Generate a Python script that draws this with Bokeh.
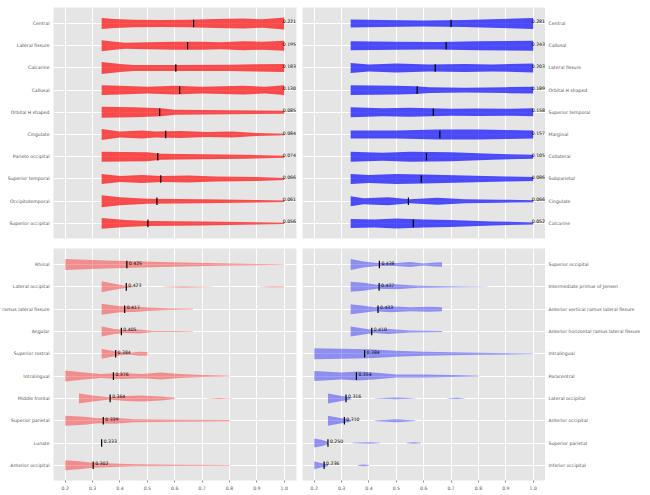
from bokeh.plotting import figure
from bokeh.layouts import gridplot
from bokeh.models import ColumnDataSource, FixedTicker, Range1d
from bokeh.core.properties import value
from bokeh.embed import file_html
from bokeh.resources import INLINE

# ---------------- data ----------------
X_TICKS = [0.2, 0.3, 0.4, 0.5, 0.6, 0.7, 0.8, 0.9, 1.0]
X_TICK_LABELS = ["0.2", "0.3", "0.4", "0.5", "0.6", "0.7", "0.8", "0.9", "1.0"]

# top-left panel (red)
TL_LABELS = ["Central", "Lateral fissure", "Calcarine", "Callosal", "Orbital H shaped",
             "Cingulate", "Parieto occipital", "Superior temporal", "Occipitotemporal",
             "Superior occipital"]
TL_VALUES = [0.221, 0.195, 0.183, 0.130, 0.085, 0.084, 0.074, 0.066, 0.061, 0.056]
TL_MEDIANS = [0.669, 0.647, 0.604, 0.618, 0.545, 0.567, 0.538, 0.549, 0.535, 0.502]
TL_DENSITY = [
    [([0.333, 0.38, 0.45, 0.55, 0.65, 0.75, 0.85, 0.92, 1.0], [5.5, 4.5, 3.8, 3.5, 3.8, 4.5, 5.0, 4.3, 6.0])],
    [([0.333, 0.38, 0.42, 0.5, 0.6, 0.7, 0.77, 0.85, 0.92, 1.0], [5.5, 4.0, 3.0, 3.5, 4.0, 4.0, 3.5, 4.5, 4.0, 5.0])],
    [([0.333, 0.4, 0.45, 0.6, 0.8, 1.0], [6.0, 4.0, 3.0, 3.0, 3.2, 4.0])],
    [([0.333, 0.4, 0.5, 0.6, 0.7, 0.85, 0.93, 1.0], [5.0, 4.5, 3.5, 4.5, 3.5, 4.5, 3.5, 5.0])],
    [([0.333, 0.45, 0.55, 0.6, 0.8, 1.0], [5.5, 5.0, 4.0, 2.5, 2.0, 1.5])],
    [([0.333, 0.4, 0.48, 0.53, 0.62, 0.72, 0.81, 0.9, 1.0], [5.5, 3.0, 4.0, 3.0, 3.5, 2.5, 3.0, 1.5, 0.8])],
    [([0.333, 0.5, 0.55, 0.7, 0.85, 1.0], [5.0, 4.5, 3.0, 2.5, 2.0, 1.0])],
    [([0.333, 0.4, 0.48, 0.55, 0.65, 0.75, 0.9, 1.0], [5.0, 3.0, 4.0, 3.0, 3.5, 2.5, 2.0, 1.0])],
    [([0.333, 0.4, 0.5, 0.7, 0.9, 1.0], [6.0, 4.0, 2.5, 2.0, 1.2, 0.8])],
    [([0.333, 0.42, 0.5, 0.7, 0.9, 1.0], [5.5, 3.5, 2.5, 2.0, 1.2, 0.7])],
]

# top-right panel (blue)
TR_LABELS = ["Central", "Callosal", "Lateral fissure", "Orbital H shaped", "Superior temporal",
             "Marginal", "Collateral", "Subparietal", "Cingulate", "Calcarine"]
TR_VALUES = [0.281, 0.243, 0.203, 0.189, 0.158, 0.157, 0.105, 0.086, 0.066, 0.052]
TR_MEDIANS = [0.700, 0.682, 0.642, 0.576, 0.635, 0.659, 0.610, 0.591, 0.544, 0.562]
TR_DENSITY = [
    [([0.333, 0.45, 0.6, 0.75, 0.88, 1.0], [4.0, 3.5, 3.0, 3.5, 4.5, 5.5])],
    [([0.333, 0.5, 0.65, 0.8, 1.0], [4.5, 4.0, 3.8, 4.5, 5.0])],
    [([0.333, 0.4, 0.5, 0.62, 0.75, 0.85, 1.0], [5.0, 3.5, 4.5, 3.5, 4.0, 3.5, 4.5])],
    [([0.333, 0.5, 0.57, 0.62, 0.75, 0.9, 1.0], [5.0, 4.5, 4.0, 3.0, 2.5, 3.0, 3.5])],
    [([0.333, 0.45, 0.55, 0.7, 0.8, 0.92, 1.0], [5.0, 4.0, 4.5, 3.5, 3.8, 3.5, 4.0])],
    [([0.333, 0.5, 0.65, 0.8, 0.9, 1.0], [4.0, 4.0, 5.0, 5.0, 4.5, 4.0])],
    [([0.333, 0.45, 0.55, 0.7, 0.85, 1.0], [5.0, 4.0, 5.0, 4.5, 3.0, 2.0])],
    [([0.333, 0.4, 0.5, 0.6, 0.75, 0.9, 1.0], [5.0, 4.0, 5.0, 4.5, 3.5, 2.5, 2.0])],
    [([0.333, 0.38, 0.47, 0.55, 0.65, 0.75, 0.88, 1.0], [5.0, 3.0, 4.0, 2.0, 3.5, 2.0, 1.5, 1.0])],
    [([0.333, 0.42, 0.5, 0.6, 0.7, 0.85, 1.0], [4.5, 4.0, 5.0, 4.0, 3.5, 2.0, 1.0])],
]

# bottom-left panel (light red)
BL_LABELS = ["Rhinal", "Lateral occipital", "Posterior ramus lateral fissure", "Angular",
             "Superior rostral", "Intralingual", "Middle frontal", "Superior parietal",
             "Lunate", "Anterior occipital"]
BL_MEDIANS = [0.425, 0.423, 0.417, 0.405, 0.384, 0.376, 0.364, 0.339, 0.333, 0.302]
BL_DENSITY = [
    [([0.2, 0.35, 0.55, 0.8, 1.0], [5.5, 4.0, 2.5, 1.0, 0.3])],
    [([0.333, 0.38, 0.42, 0.447], [5.5, 3.0, 1.2, 0.3]),
     ([0.557, 0.63, 0.74], [0.2, 0.7, 0.2]),
     ([0.91, 0.96, 1.0], [0.2, 0.5, 0.3])],
    [([0.333, 0.4, 0.45, 0.5, 0.58, 0.667], [5.5, 3.0, 2.8, 1.8, 0.8, 0.4])],
    [([0.333, 0.38, 0.42, 0.47, 0.52, 0.6, 0.667], [5.0, 2.5, 1.5, 2.0, 0.6, 0.4, 0.3])],
    [([0.333, 0.37, 0.41, 0.44, 0.47, 0.5], [5.0, 3.0, 1.2, 1.0, 2.0, 1.8])],
    [([0.2, 0.27, 0.33, 0.4, 0.48, 0.55, 0.62, 0.7, 0.8], [5.5, 3.5, 2.0, 3.0, 2.2, 3.5, 2.0, 1.0, 0.3])],
    [([0.25, 0.3, 0.36, 0.42, 0.48, 0.55, 0.6], [5.0, 3.0, 1.2, 2.5, 3.0, 2.0, 0.6]),
     ([0.72, 0.76, 0.81], [0.2, 0.5, 0.2])],
    [([0.2, 0.27, 0.32, 0.38, 0.45, 0.6, 0.8], [5.0, 4.0, 2.5, 3.0, 1.5, 1.0, 0.6])],
    [],
    [([0.2, 0.25, 0.3, 0.35, 0.45, 0.6, 0.8], [5.0, 4.0, 2.5, 2.0, 1.0, 0.6, 0.3])],
]

# bottom-right panel (light blue)
BR_LABELS = ["Superior occipital", "Intermediate primus of Jensen",
             "Anterior vertical ramus lateral fissure", "Anterior horizontal ramus lateral fissure",
             "Intralingual", "Paracentral", "Lateral occipital", "Anterior occipital",
             "Superior parietal", "Inferior occipital"]
BR_MEDIANS = [0.438, 0.437, 0.433, 0.410, 0.384, 0.354, 0.316, 0.310, 0.250, 0.236]
BR_DENSITY = [
    [([0.333, 0.38, 0.43, 0.5, 0.55, 0.6, 0.64, 0.667], [5.5, 3.0, 1.5, 1.5, 2.5, 1.0, 2.0, 2.2])],
    [([0.333, 0.38, 0.43, 0.5, 0.58, 0.7, 0.833], [5.0, 4.0, 2.0, 2.5, 1.0, 0.5, 0.2])],
    [([0.333, 0.38, 0.42, 0.48, 0.55, 0.62, 0.667], [5.0, 3.5, 2.0, 3.0, 2.0, 2.5, 2.0])],
    [([0.333, 0.38, 0.42, 0.47, 0.55, 0.667], [5.0, 3.0, 1.5, 2.5, 1.0, 0.5])],
    [([0.2, 0.3, 0.4, 0.5, 0.6, 0.8, 1.0], [5.5, 5.0, 4.5, 3.0, 2.0, 1.0, 0.3])],
    [([0.2, 0.3, 0.36, 0.42, 0.5, 0.6, 0.7, 0.8], [5.0, 3.5, 4.5, 3.5, 1.5, 1.5, 1.0, 0.3])],
    [([0.25, 0.29, 0.333], [5.0, 3.0, 1.0]),
     ([0.42, 0.5, 0.57], [0.2, 0.8, 0.2]),
     ([0.685, 0.72, 0.75], [0.2, 0.6, 0.2])],
    [([0.25, 0.29, 0.333], [5.0, 3.0, 1.0]),
     ([0.42, 0.5, 0.57], [0.3, 1.5, 0.2])],
    [([0.2, 0.23, 0.25], [4.5, 3.0, 1.0]),
     ([0.34, 0.4, 0.44], [0.2, 0.8, 0.2]),
     ([0.537, 0.565, 0.59], [0.3, 0.7, 0.2])],
    [([0.2, 0.22, 0.25], [4.0, 2.5, 0.8]),
     ([0.36, 0.38, 0.4], [0.3, 0.8, 0.3])],
]

# ---------------- style ----------------
X_START, X_END = 0.157, 1.045
Y_START, Y_END = -0.68, 9.72
DENS_SCALE = 1.0 / 22.3          # density unit -> row units
MED_HALF = 0.17
FONT = "DejaVu Sans"
LBL_SIZE = "4.6px"
GREY_TXT = "#555555"
BG = "#e5e5e5"
FRAME_W = 243
LEFT_LBL_W = 53
RIGHT_LBL_W = 102
TOP_B = dict(top=7, frame=231, bottom=5)
BOT_B = dict(top=5, frame=232, bottom=13)


def label_fig(labels, side, b, y_range):
    n = len(labels)
    ys = [n - 1 - i for i in range(n)]
    w = LEFT_LBL_W if side == "left" else RIGHT_LBL_W
    p = figure(width=w, height=b["top"] + b["frame"] + b["bottom"],
               x_range=Range1d(0, 1), y_range=y_range,
               output_backend="svg", toolbar_location=None,
               min_border_left=0, min_border_right=0,
               min_border_top=b["top"], min_border_bottom=b["bottom"],
               background_fill_color="white", border_fill_color="white",
               outline_line_color=None)
    if side == "left":
        p.text(x=[1] * n, y=ys, text=labels, x_offset=-4, text_align="right",
               text_baseline="middle", text_font=value(FONT),
               text_font_size=LBL_SIZE, text_color=GREY_TXT)
    else:
        p.text(x=[0] * n, y=ys, text=labels, x_offset=3, text_align="left",
               text_baseline="middle", text_font=value(FONT),
               text_font_size=LBL_SIZE, text_color=GREY_TXT)
    p.axis.visible = False
    p.grid.visible = False
    return p


def make_panel(labels, density, medians, values, color, alpha, side, b, show_x):
    n = len(labels)
    bl, br = (0, 3) if side == "left" else (3, 0)
    p = figure(width=bl + FRAME_W + br, height=b["top"] + b["frame"] + b["bottom"],
               x_range=Range1d(X_START, X_END), y_range=Range1d(Y_START, Y_END),
               output_backend="svg", toolbar_location=None,
               min_border_left=bl, min_border_right=br,
               min_border_top=b["top"], min_border_bottom=b["bottom"],
               background_fill_color=BG, border_fill_color="white",
               outline_line_color=None)
    ys = [n - 1 - i for i in range(n)]

    # violins
    pxs, pys = [], []
    for yc, segs in zip(ys, density):
        for xs, ws in segs:
            pxs.append(list(xs) + list(xs)[::-1])
            pys.append([yc + w * DENS_SCALE for w in ws] +
                       [yc - w * DENS_SCALE for w in ws][::-1])
    p.patches(xs=pxs, ys=pys, fill_color=color, fill_alpha=alpha, line_color=None)

    # medians
    p.segment(x0=medians, x1=medians,
              y0=[y - MED_HALF for y in ys], y1=[y + MED_HALF for y in ys],
              line_color="black", line_width=1.2)

    # value labels
    if values is not None:
        tx = [max(d[-1][0]) - 0.005 for d in density]
        tt = ["%.3f" % v for v in values]
        xo = 0
    else:
        tx = list(medians)
        tt = ["%.3f" % v for v in medians]
        xo = 2
    p.text(x=tx, y=ys, text=tt, x_offset=xo, y_offset=-2, text_align="left",
           text_baseline="middle", text_font=value(FONT),
           text_font_size=LBL_SIZE, text_color="black")

    # axes & grid
    p.yaxis.visible = False
    p.ygrid.ticker = FixedTicker(ticks=ys)
    p.xgrid.ticker = FixedTicker(ticks=X_TICKS)
    if show_x:
        p.xaxis.ticker = FixedTicker(ticks=X_TICKS)
        p.xaxis.major_label_overrides = dict(zip(X_TICKS, X_TICK_LABELS))
        p.xaxis.axis_line_color = None
        p.xaxis.minor_tick_line_color = None
        p.xaxis.major_tick_line_color = "#888888"
        p.xaxis.major_tick_in = 0
        p.xaxis.major_tick_out = 2
        p.xaxis.major_label_standoff = 3
        p.xaxis.major_label_text_color = GREY_TXT
        p.xaxis.major_label_text_font = FONT
        p.xaxis.major_label_text_font_size = LBL_SIZE
    else:
        p.xaxis.visible = False
    p.grid.grid_line_color = "white"
    p.grid.grid_line_width = 1
    return p


tl = make_panel(TL_LABELS, TL_DENSITY, TL_MEDIANS, TL_VALUES, "#ff0000", 0.68, "left", TOP_B, False)
tr = make_panel(TR_LABELS, TR_DENSITY, TR_MEDIANS, TR_VALUES, "#0000ff", 0.68, "right", TOP_B, False)
bl = make_panel(BL_LABELS, BL_DENSITY, BL_MEDIANS, None, "#ff0000", 0.38, "left", BOT_B, True)
br = make_panel(BR_LABELS, BR_DENSITY, BR_MEDIANS, None, "#0000ff", 0.38, "right", BOT_B, True)

ltl = label_fig(TL_LABELS, "left", TOP_B, tl.y_range)
ltr = label_fig(TR_LABELS, "right", TOP_B, tr.y_range)
lbl = label_fig(BL_LABELS, "left", BOT_B, bl.y_range)
lbr = label_fig(BR_LABELS, "right", BOT_B, br.y_range)

grid = gridplot([[ltl, tl, tr, ltr], [lbl, bl, br, lbr]], toolbar_location=None)

open("out.html", "w").write(file_html(grid, INLINE))
